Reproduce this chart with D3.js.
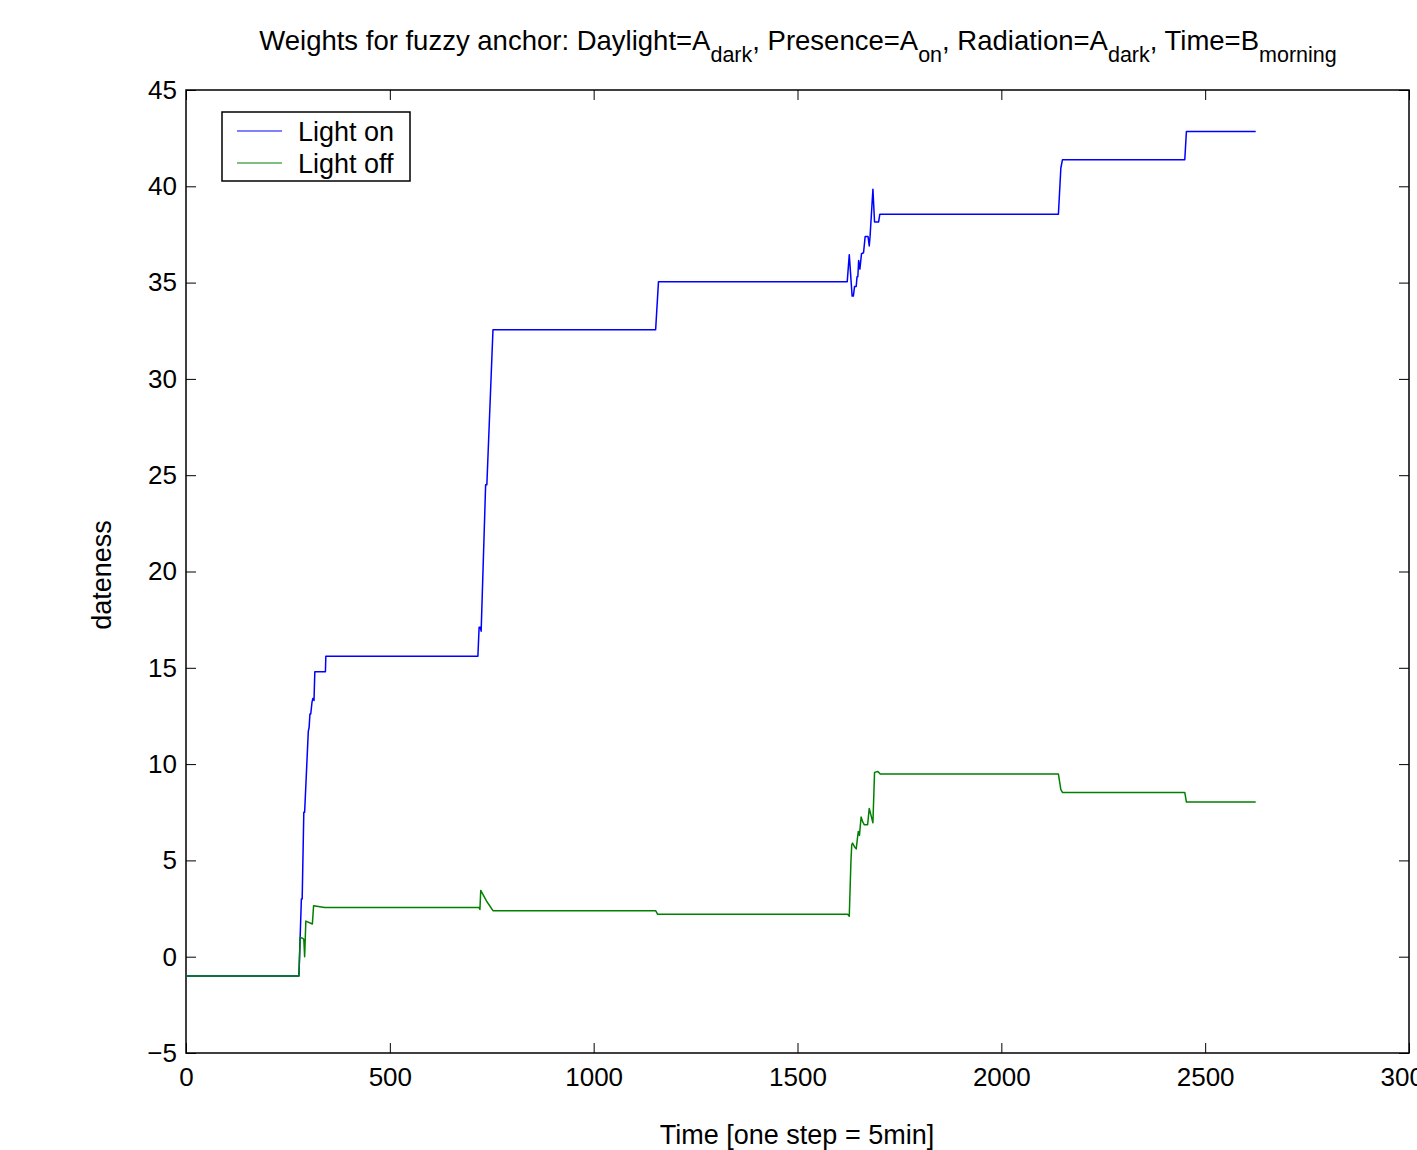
<!DOCTYPE html>
<html>
<head>
<meta charset="utf-8">
<script src="https://cdn.jsdelivr.net/npm/d3@7"></script>
<style>
 body { margin: 0; background: #fff; }
 text { font-family: "Liberation Sans", Arial, sans-serif; fill: #000; }
 .axis path { display: none; }
 .axis line { stroke: #000; stroke-width: 1; }
 .axis text { font-size: 26px; }
</style>
</head>
<body>
<svg width="1417" height="1150"></svg>
<script>
// series values, [time step, dateness]
const lightOn = [
 [0, -1], [277, -1], [280, 1], [283, 3], [285, 3], [289, 7.5], [291, 7.5],
 [300, 11.7], [302, 11.9], [304, 12.6], [306, 12.6], [309, 13.2], [311, 13.4],
 [312, 13.4], [314, 13.3], [316, 14.8], [342, 14.8], [343, 15.6],
 [716, 15.6], [719, 17.1], [722, 17.1], [724, 16.9], [735, 24.5], [738, 24.5],
 [753, 32.55], [1152, 32.55], [1159, 35.05], [1622, 35.05], [1627, 36.45],
 [1634, 34.3], [1637, 34.3], [1640, 34.8], [1644, 34.8], [1646, 35.3],
 [1648, 35.3], [1650, 36.15], [1653, 35.7], [1657, 36.5], [1662, 36.55],
 [1666, 37.4], [1673, 37.4], [1676, 36.9], [1678, 37.4], [1685, 39.85],
 [1689, 38.15], [1699, 38.15], [1702, 38.55], [2140, 38.55], [2146, 40.95],
 [2150, 41.38], [2450, 41.38], [2454, 42.85], [2624, 42.85]
];
const lightOff = [
 [0, -1], [277, -1], [280, 1], [287, 0.95], [289, 0.9], [291, 0], [294, 1.85],
 [310, 1.7], [313, 2.65], [340, 2.55], [719, 2.55], [721, 2.45], [723, 3.44],
 [737, 2.9], [740, 2.8], [753, 2.39], [1152, 2.39], [1157, 2.2], [1623, 2.2],
 [1627, 2.1], [1631, 4.9], [1633, 5.8], [1635, 5.9], [1640, 5.7], [1644, 5.6],
 [1649, 6.5], [1652, 6.3], [1656, 7.25], [1660, 7.0], [1664, 6.85], [1672, 6.85],
 [1676, 7.7], [1685, 6.95], [1689, 9.57], [1697, 9.62], [1703, 9.48],
 [2140, 9.48], [2146, 8.67], [2150, 8.53], [2450, 8.53], [2454, 8.03], [2624, 8.03]
];
const seriesNames = ["Light on", "Light off"];
const seriesColors = ["#0000ff", "#008000"];
const xTicks = [0, 500, 1000, 1500, 2000, 2500, 3000];
const yTicks = [-5, 0, 5, 10, 15, 20, 25, 30, 35, 40, 45];

const plotLeft = 186, plotRight = 1409, plotTop = 90, plotBottom = 1053;

const svg = d3.select("svg");

const x = d3.scaleLinear().domain([0, 3000]).range([plotLeft, plotRight]);
const y = d3.scaleLinear().domain([-5, 45]).range([plotBottom, plotTop]);

const fmt = d => (d < 0 ? "\u2212" + Math.abs(d) : String(d));

svg.append("g")
 .attr("class", "axis")
 .attr("transform", `translate(0,${plotBottom})`)
 .call(d3.axisBottom(x).tickValues(xTicks).tickFormat(fmt).tickSizeInner(-10).tickSizeOuter(0).tickPadding(15));

svg.append("g")
 .attr("class", "axis")
 .attr("transform", `translate(0,${plotTop})`)
 .call(d3.axisTop(x).tickValues(xTicks).tickFormat("").tickSizeInner(-10).tickSizeOuter(0));

svg.append("g")
 .attr("class", "axis")
 .attr("transform", `translate(${plotLeft},0)`)
 .call(d3.axisLeft(y).tickValues(yTicks).tickFormat(fmt).tickSizeInner(-10).tickSizeOuter(0).tickPadding(9));

svg.append("g")
 .attr("class", "axis")
 .attr("transform", `translate(${plotRight},0)`)
 .call(d3.axisRight(y).tickValues(yTicks).tickFormat("").tickSizeInner(-10).tickSizeOuter(0));

svg.append("rect")
 .attr("x", plotLeft).attr("y", plotTop)
 .attr("width", plotRight - plotLeft).attr("height", plotBottom - plotTop)
 .attr("fill", "none").attr("stroke", "#000").attr("stroke-width", 1.5);

const line = d3.line().x(d => x(d[0])).y(d => y(d[1]));

[lightOn, lightOff].forEach((s, i) => {
 svg.append("path")
  .datum(s)
  .attr("d", line)
  .attr("fill", "none")
  .attr("stroke", seriesColors[i])
  .attr("stroke-width", 1.5)
  .attr("stroke-linejoin", "round");
});

// legend
const legend = svg.append("g").attr("transform", "translate(222,112)");
legend.append("rect")
 .attr("width", 188).attr("height", 69)
 .attr("fill", "#fff").attr("stroke", "#000").attr("stroke-width", 1.5);
seriesNames.forEach((n, i) => {
 legend.append("line")
  .attr("x1", 15).attr("x2", 60)
  .attr("y1", 19 + i * 32).attr("y2", 19 + i * 32)
  .attr("stroke", seriesColors[i]).attr("stroke-width", 1.2);
 legend.append("text")
  .attr("x", 76).attr("y", 29 + i * 32)
  .style("font-size", "27px")
  .text(n);
});

// title with subscripts
const title = svg.append("text")
 .attr("x", 798).attr("y", 50)
 .attr("text-anchor", "middle")
 .style("font-size", "27.5px");
const parts = [
 ["Weights for fuzzy anchor: Daylight=A", "dark"],
 [", Presence=A", "on"],
 [", Radiation=A", "dark"],
 [", Time=B", "morning"]
];
parts.forEach((p, i) => {
 title.append("tspan").attr("dy", i === 0 ? 0 : -12).text(p[0]);
 title.append("tspan").attr("dy", 12).style("font-size", "21.5px").text(p[1]);
});

svg.append("text")
 .attr("x", 797).attr("y", 1144)
 .attr("text-anchor", "middle")
 .style("font-size", "27px")
 .text("Time [one step = 5min]");

svg.append("text")
 .attr("transform", "translate(111,575) rotate(-90)")
 .attr("text-anchor", "middle")
 .style("font-size", "27px")
 .text("dateness");
</script>
</body>
</html>
